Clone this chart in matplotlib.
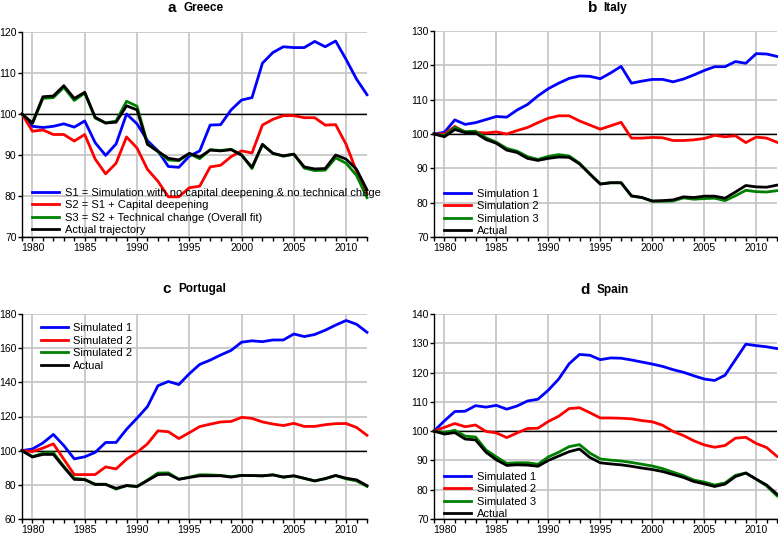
import numpy as np
import matplotlib
matplotlib.use("Agg")
import matplotlib.pyplot as plt
from matplotlib.ticker import MultipleLocator

plt.rcParams['font.family'] = ['Liberation Sans', 'DejaVu Sans']

years = list(range(1979, 2013))

# Greece
gr_s1 = [100, 97, 96.7, 97, 97.6, 96.8, 98.3, 93, 89.9, 92.7, 100, 97.6, 93.5, 91, 87.2, 87,
         89.7, 91, 97.3, 97.4, 101, 103.4, 104, 112.4, 115, 116.4, 116.2, 116.2, 117.7, 116.4,
         117.8, 113.3, 108.5, 104.7]
gr_s2 = [100, 95.8, 96.1, 95, 95, 93.4, 95, 89, 85.4, 88, 94.4, 91.7, 86.5, 83.6, 79.8, 79.8,
         82, 82.4, 87.1, 87.5, 89.6, 91, 90.5, 97.3, 98.7, 99.6, 99.6, 99.1, 99.1, 97.3,
         97.4, 92.6, 86, 80.5]
gr_s3 = [100, 97.7, 103.8, 104, 106.5, 103.3, 105.1, 99, 97.8, 98.3, 103.1, 101.9, 92.8, 90.8,
         88.8, 88.6, 90.3, 89.1, 91.3, 91.1, 91.4, 90, 86.7, 92.5, 90.4, 89.7, 90.2, 86.8,
         86.2, 86.3, 89.3, 88, 85, 79.6]
gr_act = [100, 97.8, 104.2, 104.4, 106.9, 103.8, 105.3, 99.2, 97.8, 98, 102, 101, 92.6, 90.9,
          89.2, 88.8, 90.4, 89.5, 91.2, 91, 91.3, 90, 87, 92.6, 90.4, 89.8, 90.2, 87.1,
          86.6, 86.7, 90, 89, 86.5, 81.5]

# Italy
it_s1 = [100, 100.5, 104.1, 102.8, 103.3, 104.2, 105.1, 104.9, 107, 108.6, 111.1, 113.2, 114.8,
         116.2, 116.9, 116.8, 116.1, 117.8, 119.7, 114.8, 115.4, 115.9, 115.9, 115.2, 116,
         117.2, 118.5, 119.6, 119.6, 121.1, 120.6, 123.4, 123.3, 122.6]
it_s2 = [100, 100, 102.2, 100.5, 100.5, 100.3, 100.6, 100, 101, 101.9, 103.3, 104.6, 105.3,
         105.3, 103.8, 102.6, 101.4, 102.4, 103.4, 98.8, 98.8, 99, 98.9, 98.1, 98.1, 98.3,
         98.7, 99.6, 99.2, 99.5, 97.5, 99.1, 98.8, 97.6]
it_s3 = [100, 99.5, 101.9, 100.7, 100.8, 98.9, 97.6, 95.8, 95, 93.4, 92.6, 93.5, 94, 93.6,
         91.5, 88.4, 85.5, 85.8, 85.8, 81.9, 81.5, 80.4, 80.4, 80.5, 81.4, 81, 81.2, 81.3,
         80.6, 82, 83.6, 83.2, 83.1, 83.5]
it_act = [100, 99.2, 101.3, 100.4, 100.3, 98.4, 97.3, 95.3, 94.6, 92.9, 92.3, 92.9, 93.3, 93.2,
          91.3, 88.3, 85.4, 85.8, 85.8, 82, 81.5, 80.5, 80.6, 80.8, 81.7, 81.5, 81.9, 81.9,
          81.3, 83.1, 85, 84.6, 84.5, 85.1]

# Portugal
pt_s1 = [100, 101, 104.5, 109.5, 103, 95.2, 96.4, 99, 104.8, 104.8, 112.5, 119, 125.8, 138,
         140.5, 138.7, 145, 150.5, 153, 156, 158.7, 163.5, 164.3, 163.8, 164.8, 164.8, 168.3,
         166.8, 168, 170.5, 173.5, 176.2, 174, 169.3]
pt_s2 = [100, 99.5, 101.5, 104, 95, 86, 86, 86, 90.5, 89.3, 95, 99, 104, 111.6, 111.1, 107.1,
         110.5, 114.1, 115.5, 116.8, 117.1, 119.5, 118.9, 116.8, 115.6, 114.7, 116, 114.2,
         114.2, 115.2, 115.8, 115.9, 113.6, 109]
pt_s3 = [100, 96.5, 98.5, 98.8, 90.8, 83.8, 83.2, 80.4, 80.4, 77.5, 79.5, 79, 82.8, 86.9, 87,
         83.2, 84.5, 85.9, 85.8, 85.5, 84.8, 85.5, 85.5, 85.2, 85.9, 84.4, 85.2, 83.8, 82.3,
         83.5, 85.4, 83.5, 82.3, 79.1]
pt_act = [100, 96.3, 97.8, 97.8, 90.3, 83.2, 83, 80.2, 80.2, 77.9, 79.6, 79, 82.5, 86, 86.2,
          83.3, 84.3, 85.3, 85.3, 85.3, 84.5, 85.5, 85.4, 85.3, 85.8, 84.6, 85.3, 83.8, 82.3,
          83.7, 85.5, 83.9, 82.9, 79.5]

# Spain
es_s1 = [100, 103.5, 106.7, 106.8, 108.7, 108.2, 108.8, 107.5, 108.6, 110.3, 110.9, 114, 117.8,
         123, 126.2, 125.9, 124.4, 125, 124.9, 124.3, 123.6, 122.9, 122.1, 121, 120.1, 118.9,
         117.8, 117.3, 119.1, 124.4, 129.7, 129.2, 128.8, 128.2]
es_s2 = [100, 101.3, 102.6, 101.5, 102.1, 99.9, 99.4, 97.8, 99.4, 100.9, 101, 103.3, 105.1,
         107.7, 108, 106.3, 104.5, 104.5, 104.4, 104.2, 103.6, 103.2, 102, 99.9, 98.5, 96.7,
         95.3, 94.5, 95.1, 97.6, 97.9, 95.8, 94.4, 91.4]
es_s3 = [100, 99.5, 100.3, 98.3, 98, 93.6, 91.2, 89, 89.2, 89.2, 88.7, 91.2, 92.8, 94.7, 95.4,
         92.5, 90.5, 90.1, 89.8, 89.3, 88.7, 88.1, 87.2, 86, 84.8, 83.3, 82.6, 81.6, 82.3,
         84.9, 85.7, 83.6, 81.3, 77.9]
es_act = [100, 99, 99.5, 97.3, 97, 92.8, 90.2, 88.3, 88.5, 88.4, 88, 90, 91.5, 93, 93.9, 91,
          89.2, 88.8, 88.5, 88, 87.4, 86.9, 86.2, 85.2, 84.2, 82.8, 82, 81.1, 81.9, 84.5,
          85.7, 83.6, 81.6, 78.5]

gr_labels = ["S1 = Simulation with no capital deepening & no technical chage",
             "S2 = S1 + Capital deepening",
             "S3 = S2 + Technical change (Overall fit)",
             "Actual trajectory"]
it_labels = ["Simulation 1", "Simulation 2", "Simulation 3", "Actual"]
pt_labels = ["Simulated 1", "Simulated 2", "Simulated 2", "Actual"]
es_labels = ["Simulated 1", "Simulated 2", "Simulated 3", "Actual"]

colors = ["#0000ff", "#ff0000", "#008000", "#000000"]

W, H = 778, 534
fig = plt.figure(figsize=(W / 100, H / 100), dpi=100)


def make_ax(left, top, right, bottom):
    return fig.add_axes([left / W, 1 - bottom / H, (right - left) / W, (bottom - top) / H])


def panel(ax, series, labels, ylim, ystep, leg_loc, leg_anchor):
    ax.set_xlim(1979, 2012)
    ax.set_ylim(*ylim)
    ax.yaxis.set_major_locator(MultipleLocator(ystep))
    ax.set_xticks(range(1980, 2011, 5))
    ax.xaxis.set_minor_locator(MultipleLocator(1))
    ax.grid(True, color="#c8c8c8", lw=1.3)
    ax.set_axisbelow(True)
    for s in ["top", "right"]:
        ax.spines[s].set_visible(False)
    for s in ["left", "bottom"]:
        ax.spines[s].set_linewidth(1.0)
    ax.tick_params(direction="out", labelsize=7.5, length=3, width=1, pad=1)
    ax.tick_params(which="minor", direction="out", length=3, width=1)
    ax.axhline(100, color="black", lw=1.0, zorder=2)
    for vals, lab, c in zip(series, labels, colors):
        ax.plot(years, vals, color=c, lw=2.0, label=lab, zorder=3, clip_on=False)
    ax.legend(loc=leg_loc, bbox_to_anchor=leg_anchor, frameon=False, fontsize=8,
              handlelength=2.4, handletextpad=0.5, labelspacing=0.22,
              borderpad=0, borderaxespad=0)


ax_a = make_ax(22, 32, 367, 237)
panel(ax_a, [gr_s1, gr_s2, gr_s3, gr_act], gr_labels, (70, 120), 10, "lower left", (0.03, 0.01))

ax_b = make_ax(434, 31, 777, 237)
panel(ax_b, [it_s1, it_s2, it_s3, it_act], it_labels, (70, 130), 10, "lower left", (0.03, 0.005))

ax_c = make_ax(22, 314, 367, 519)
panel(ax_c, [pt_s1, pt_s2, pt_s3, pt_act], pt_labels, (60, 180), 20, "upper left", (0.055, 0.955))

ax_d = make_ax(434, 314, 777, 519)
panel(ax_d, [es_s1, es_s2, es_s3, es_act], es_labels, (70, 140), 10, "lower left", (0.03, 0.0))

# panel titles: letter + country name
titles = [("a", "Greece", 176, 184, 8), ("b", "Italy", 597, 603, 8),
          ("c", "Portugal", 171, 178, 289), ("d", "Spain", 590, 597, 290)]
for letter, name, xl, xn, y in titles:
    fig.text(xl / W, 1 - y / H, letter, ha="right", va="center", fontsize=11, fontweight="bold")
    fig.text(xn / W, 1 - y / H, name, ha="left", va="center", fontsize=8.5, fontweight="bold")

fig.savefig("out.png", dpi=100)
